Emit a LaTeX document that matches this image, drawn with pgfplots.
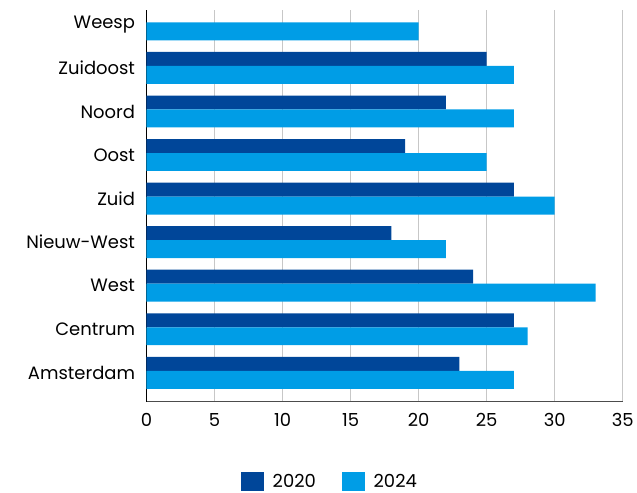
\documentclass[border=0pt]{standalone}
\usepackage{pgfplots}
\pgfplotsset{compat=1.18}
\usepackage{fontspec}
\setmainfont{Poppins}
\definecolor{dark}{HTML}{004699}
\definecolor{light}{HTML}{009DE6}
\begin{document}
\begin{tikzpicture}
\begin{axis}[
  scale only axis,
  width=478pt, height=393pt,
  xbar,
  xmin=0, xmax=35,
  ymin=-0.66, ymax=8.33,
  xtick={0,5,...,35},
  ytick={0,...,8},
  yticklabels={Amsterdam,Centrum,West,Nieuw-West,Zuid,Oost,Noord,Zuidoost,Weesp},
  axis lines=left,
  axis line style={-, black, line width=0.8pt},
  x axis line style={draw=black!70},
  major tick length=0pt,
  xmajorgrids,
  grid style={draw=black!22, line width=1pt},
  tick label style={font=\fontsize{18}{20}\selectfont},
  /pgf/number format/assume math mode=true,
  xticklabel style={yshift=-8pt},
  yticklabel style={xshift=-8pt},
  legend style={at={(0.385,-0.204)}, anchor=center, draw=none, legend columns=2,
     font=\fontsize{18}{20}\selectfont,
     /tikz/every odd column/.append style={column sep=7pt},
     /tikz/every even column/.append style={column sep=24pt}},
  legend image code/.code={\fill[#1] (0pt,-9.5pt) rectangle (23pt,9.5pt);},
]
\addplot[fill=dark, draw=none, bar width=14pt, bar shift=9pt] coordinates {
 (23,0) (27,1) (24,2) (18,3) (27,4) (19,5) (22,6) (25,7)};
\addplot[fill=light, draw=none, bar width=18pt, bar shift=-7pt] coordinates {
 (27,0) (28,1) (33,2) (22,3) (30,4) (25,5) (27,6) (27,7) (20,8)};
\legend{2020,2024}
\end{axis}
\path (current axis.south west) ++(-147pt,-86pt) rectangle ++(637pt,489pt);
\end{tikzpicture}
\end{document}
